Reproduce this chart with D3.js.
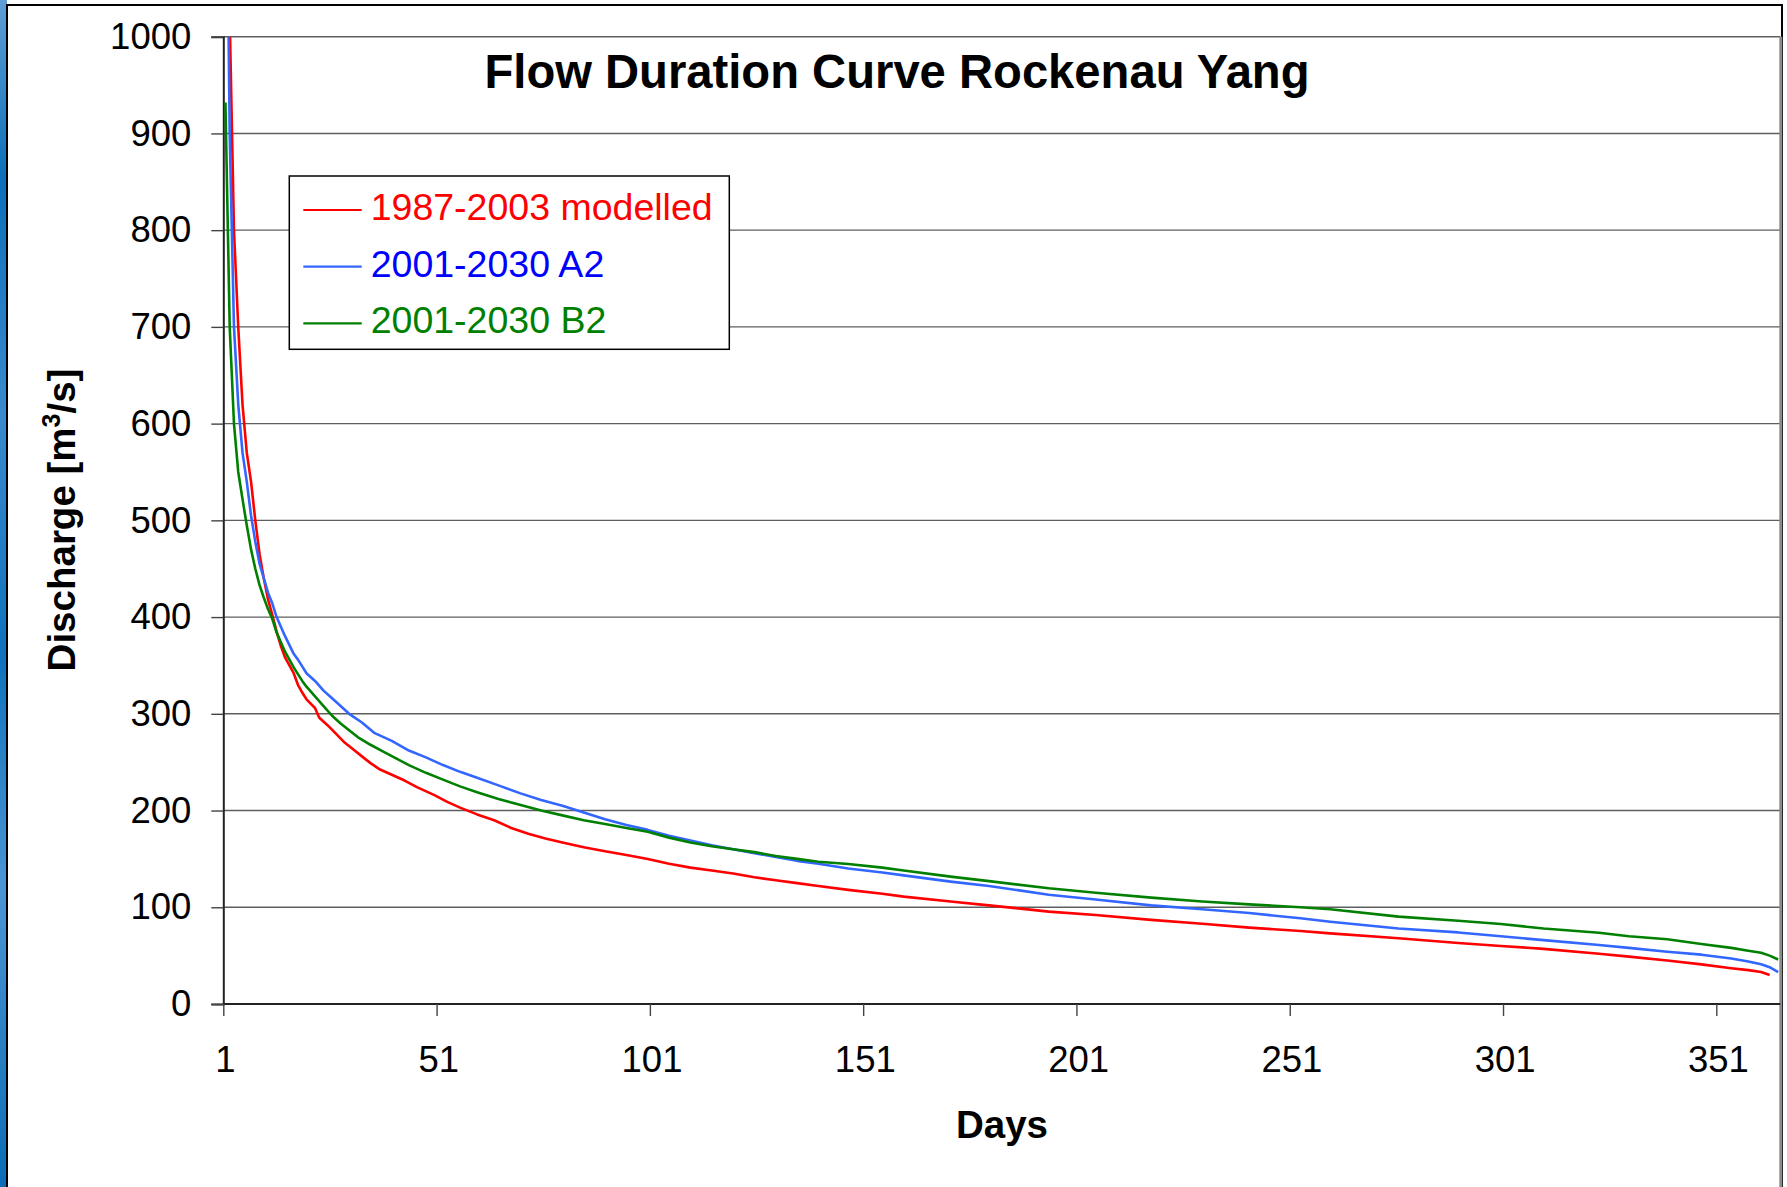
<!DOCTYPE html>
<html>
<head>
<meta charset="utf-8">
<title>Flow Duration Curve Rockenau Yang</title>
<script src="https://cdn.jsdelivr.net/npm/d3@7/dist/d3.min.js"></script>
<style>
    html, body { margin: 0; padding: 0; background: #fff; }
    #chart { width: 1787px; height: 1187px; }
    text { font-family: "Liberation Sans", Arial, sans-serif; }
</style>
</head>
<body>
<div id="chart"></div>
<script>
// Sorted daily discharge (m³/s) at selected days
const seriesNames = ['1987-2003 modelled', '2001-2030 A2', '2001-2030 B2'];

const redDays = [1, 2, 3, 4, 5, 6, 7, 8, 9, 10, 11, 12, 13, 14, 15, 16, 17, 18, 19, 20, 22, 23, 25, 27, 29, 31, 33, 35, 37, 40,
    43, 46, 50, 53, 56, 60, 64, 68, 72, 76, 80, 85, 90, 95, 100, 105, 110, 115, 120, 125, 130, 135, 140, 147, 155, 160,
    171, 180, 194, 205, 218, 230, 241, 253, 260, 276, 290, 300, 310, 323, 330, 339, 347, 354, 358, 361, 363];
const redValues = [2000, 1020, 800, 700, 620, 570, 540, 500, 465, 440, 418, 402, 385, 370, 358, 350, 342, 330, 322, 315, 306, 296, 288, 279, 270, 263, 256, 249, 243, 237,
    231, 224, 216, 209, 203, 196, 190, 182, 176, 171, 167, 162, 158, 154, 150, 145, 141, 138, 135, 131, 128, 125, 122, 118, 114, 111,
    106, 102, 95.5, 92, 87, 83, 79, 75.5, 73, 68, 63, 60, 57, 52, 49, 45, 41, 37, 35, 33, 30];

const blueDays = [1, 2, 3, 4, 5, 6, 7, 8, 9, 10, 11, 12, 13, 14, 15, 16, 17, 18, 19, 20, 22, 24, 26, 28, 30, 33, 36, 40, 44, 48,
    52, 56, 60, 65, 70, 75, 80, 85, 90, 95, 100, 105, 110, 115, 120, 125, 130, 135, 140, 147, 155, 160, 171, 180, 194, 205,
    218, 230, 241, 253, 260, 276, 290, 300, 310, 323, 330, 339, 347, 354, 358, 361, 363, 365];
const blueValues = [1300, 900, 700, 620, 570, 540, 505, 478, 455, 440, 425, 414, 400, 390, 380, 371, 362, 356, 349, 342, 334, 324, 316, 308, 300, 291, 280, 272, 262, 255,
    247, 240, 234, 226, 218, 211, 205, 198, 191, 185, 180, 174, 169, 164, 160, 156, 152, 148, 145, 140, 136, 133, 126.5, 122, 113, 108,
    102, 98, 94, 88.6, 85, 78, 74, 70, 66, 61, 58, 54, 51, 47, 44, 41, 38, 33];

const greenDays = [1, 2, 3, 4, 5, 6, 7, 8, 9, 10, 11, 12, 13, 14, 15, 16, 17, 18, 19, 20, 22, 24, 26, 28, 30, 32, 35, 38, 41, 44,
    48, 52, 56, 60, 65, 70, 75, 80, 85, 90, 95, 100, 105, 110, 115, 120, 125, 130, 135, 140, 147, 155, 160, 171, 180, 194,
    205, 218, 230, 241, 253, 260, 276, 290, 300, 310, 323, 330, 339, 347, 354, 358, 361, 363, 365];
const greenValues = [932, 700, 600, 550, 522, 495, 470, 450, 433, 420, 408, 398, 384, 374, 364, 356, 348, 341, 334, 328, 318, 308, 298, 290, 283, 276, 268, 261, 254, 247,
    239, 232, 225, 219, 212, 206, 200, 195, 190, 186, 182, 178, 172, 167, 163, 160, 157, 153, 150, 147, 144.8, 141, 138, 131.7, 127, 119.6,
    115, 110, 106, 103, 100, 97.9, 90.3, 86, 82.7, 78, 73.7, 70, 67, 62, 58, 55, 53, 50, 46];

const yTicks = [0, 100, 200, 300, 400, 500, 600, 700, 800, 900, 1000];
const xTickLabels = [1, 51, 101, 151, 201, 251, 301, 351];

const lineColors = ['#ff0000', '#3366ff', '#008000'];
const textColors = ['#ff0000', '#0000ff', '#008000'];

const W = 1787, H = 1187;
const plot = { left: 223.3, right: 1780.3, top: 36.7, bottom: 1004 };

const svg = d3.select('#chart').append('svg')
    .attr('width', W)
    .attr('height', H)
    .attr('role', 'img')
    .attr('aria-label', 'Flow Duration Curve Rockenau Yang');

// slide background strip on the left
const defs = svg.append('defs');
const grad = defs.append('linearGradient').attr('id', 'strip').attr('x1', 0).attr('y1', 0).attr('x2', 0).attr('y2', 1);
[['0%', '#5f9fd6'], ['15%', '#0d6fb8'], ['35%', '#3a8ad0'], ['55%', '#0f72bb'], ['75%', '#4b95d4'], ['100%', '#0b6cb5']]
    .forEach(([o, c]) => grad.append('stop').attr('offset', o).attr('stop-color', c));
defs.append('clipPath').attr('id', 'plotClip')
    .append('rect')
    .attr('x', plot.left).attr('y', plot.top)
    .attr('width', plot.right - plot.left).attr('height', plot.bottom - plot.top);

svg.append('rect').attr('x', 0).attr('y', 0).attr('width', 7).attr('height', H).attr('fill', 'url(#strip)');

// chart frame
svg.append('path')
    .attr('d', `M7,${H} V5 H1782 V${H}`)
    .attr('fill', 'none').attr('stroke', '#000').attr('stroke-width', 2);

const x = d3.scaleLinear().domain([0.5, 365.5]).range([plot.left, plot.right]);
const y = d3.scaleLinear().domain([0, 1000]).range([plot.bottom, plot.top]);

// gridlines
svg.append('g')
    .selectAll('line')
    .data(yTicks.filter(d => d > 0))
    .join('line')
    .attr('x1', plot.left).attr('x2', plot.right)
    .attr('y1', d => y(d)).attr('y2', d => y(d))
    .attr('stroke', '#5e5e5e').attr('stroke-width', 1.4);

// plot area right edge
svg.append('line')
    .attr('x1', 1780.8).attr('x2', 1780.8).attr('y1', plot.top).attr('y2', H)
    .attr('stroke', '#8a8a8a').attr('stroke-width', 3);

// y axis
const yAxis = svg.append('g')
    .attr('transform', `translate(${plot.left},0)`)
    .call(d3.axisLeft(y).tickValues(yTicks).tickSize(12).tickPadding(20).tickFormat(d3.format('d')));
yAxis.select('.domain').attr('stroke', '#222').attr('stroke-width', 2);
yAxis.selectAll('.tick line').attr('stroke', '#444').attr('stroke-width', 1.4);
yAxis.selectAll('.tick text')
    .attr('font-size', 36.5).attr('fill', '#000')
    .attr('font-family', '"Liberation Sans", Arial, sans-serif');

// x axis: ticks between categories, labels centred on the category
const xAxis = svg.append('g')
    .attr('transform', `translate(0,${plot.bottom})`)
    .call(d3.axisBottom(x).tickValues(xTickLabels.map(d => d - 0.5)).tickSize(12).tickFormat(''));
xAxis.select('.domain').attr('stroke', '#222').attr('stroke-width', 2)
    .attr('d', `M${plot.left},0H${plot.right}`);
xAxis.selectAll('.tick line').attr('stroke', '#444').attr('stroke-width', 1.4);

svg.append('g')
    .selectAll('text')
    .data(xTickLabels)
    .join('text')
    .attr('x', d => x(d))
    .attr('y', 1072)
    .attr('text-anchor', 'middle')
    .attr('font-size', 36.5)
    .text(d => d);

// curves
const series = [
    { days: redDays, values: redValues },
    { days: blueDays, values: blueValues },
    { days: greenDays, values: greenValues }
];
const line = d3.line().x(d => x(d[0])).y(d => y(d[1]));

svg.append('g')
    .attr('clip-path', 'url(#plotClip)')
    .selectAll('path')
    .data(series)
    .join('path')
    .attr('d', s => line(s.days.map((d, i) => [d, s.values[i]])))
    .attr('fill', 'none')
    .attr('stroke', (s, i) => lineColors[i])
    .attr('stroke-width', 2.6)
    .attr('stroke-linejoin', 'round');

// title
svg.append('text')
    .attr('x', 897).attr('y', 88)
    .attr('text-anchor', 'middle')
    .attr('font-size', 47.2).attr('font-weight', 'bold')
    .text('Flow Duration Curve Rockenau Yang');

// axis titles
svg.append('text')
    .attr('x', 1002).attr('y', 1138)
    .attr('text-anchor', 'middle')
    .attr('font-size', 38.5).attr('font-weight', 'bold')
    .text('Days');

const yTitle = svg.append('text')
    .attr('transform', 'translate(75,520) rotate(-90)')
    .attr('text-anchor', 'middle')
    .attr('font-size', 38.5).attr('font-weight', 'bold');
yTitle.append('tspan').text('Discharge [m');
yTitle.append('tspan').attr('font-size', 25).attr('dy', -15).text('3');
yTitle.append('tspan').attr('dy', 15).text('/s]');

// legend
const legend = svg.append('g');
legend.append('rect')
    .attr('x', 289.3).attr('y', 176)
    .attr('width', 440).attr('height', 173.3)
    .attr('fill', '#fff').attr('stroke', '#000').attr('stroke-width', 1.5);

const rows = legend.selectAll('g.row')
    .data(seriesNames)
    .join('g')
    .attr('class', 'row')
    .attr('transform', (d, i) => `translate(0,${220 + i * 56.7})`);
rows.append('line')
    .attr('x1', 303.3).attr('x2', 361.7)
    .attr('y1', -10).attr('y2', -10)
    .attr('stroke', (d, i) => lineColors[i]).attr('stroke-width', 2.2);
rows.append('text')
    .attr('x', 370.7).attr('y', 0)
    .attr('font-size', 37.5)
    .attr('fill', (d, i) => textColors[i])
    .text(d => d);
</script>
</body>
</html>
